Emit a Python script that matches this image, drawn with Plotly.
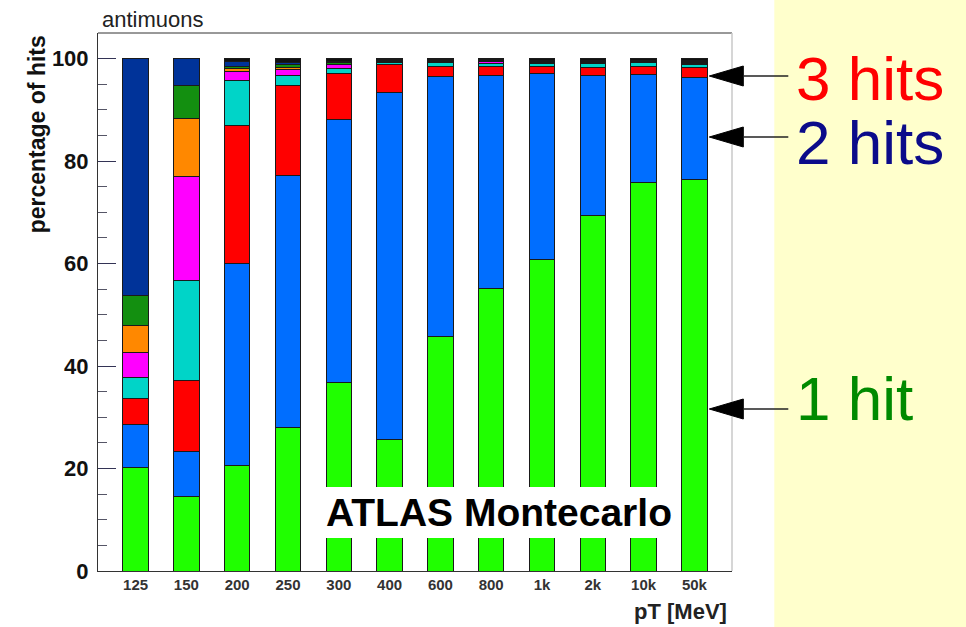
import plotly.graph_objects as go

# ---------------- data ----------------
categories = ["125", "150", "200", "250", "300", "400", "600", "800", "1k", "2k", "10k", "50k"]
hits1 = [20.2, 14.6, 20.5, 28.1, 36.7, 25.6, 45.7, 55.1, 60.7, 69.3, 75.8, 76.4]
hits2 = [8.4, 8.8, 39.5, 49.0, 51.4, 67.7, 50.8, 41.6, 36.3, 27.4, 21.1, 20.0]
hits3 = [5.0, 13.7, 27.0, 17.6, 8.9, 5.5, 2.0, 1.7, 1.5, 1.6, 1.6, 1.8]
hits4 = [4.2, 19.5, 8.8, 2.1, 1.0, 0.4, 0.7, 0.7, 0.5, 0.8, 0.7, 0.7]
hits5 = [4.9, 20.3, 1.7, 1.0, 0.8, 0.1, 0.1, 0.3, 0.1, 0.1, 0.1, 0.2]
hits6 = [5.2, 11.4, 0.6, 0.4, 0.1, 0.05, 0.05, 0.05, 0.05, 0.05, 0.05, 0.05]
hits7 = [5.9, 6.5, 0.4, 0.6, 0.3, 0.2, 0.25, 0.2, 0.35, 0.2, 0.15, 0.2]
hits8 = [46.2, 5.2, 1.0, 0.5, 0.3, 0.2, 0.2, 0.2, 0.2, 0.2, 0.2, 0.3]
hits9 = [0.0, 0.0, 0.5, 0.7, 0.5, 0.25, 0.2, 0.15, 0.3, 0.35, 0.3, 0.35]

series_names = ["1 hit", "2 hits", "3 hits", "4 hits", "5 hits", "6 hits", "7 hits", "8 hits", "9+ hits"]
series_values = [hits1, hits2, hits3, hits4, hits5, hits6, hits7, hits8, hits9]
series_colors = ["#20ff00", "#006eff", "#ff0000", "#00d4c8", "#ff00ff",
                 "#ff8800", "#138f10", "#003399", "#111111"]

title_text = "antimuons"
y_title = "percentage of hits"
x_title = "pT [MeV]"
label_texts = ["3 hits", "2 hits", "1 hit"]
label_colors = ["#ff0000", "#0b0b8a", "#008a00"]

# ---------------- layout geometry (pixels) ----------------
W, H = 966, 627
L, R, T, B = 97.7, 731.7, 33, 571


def px(x):
    return (x - L) / (R - L)


def py(y):
    return (B - y) / (B - T)


FONT = "Liberation Sans, Arial, Helvetica, sans-serif"

fig = go.Figure()
for name, vals, color in zip(series_names, series_values, series_colors):
    fig.add_trace(go.Bar(
        x=categories, y=vals, name=name,
        marker=dict(color=color, line=dict(color="#1a1a1a", width=1)),
    ))

shapes = []
annotations = []

# yellow side panel
shapes.append(dict(type="rect", xref="paper", yref="paper", layer="below",
                   x0=px(774), x1=px(970), y0=py(630), y1=py(-3),
                   fillcolor="#ffffcc", line=dict(width=0)))
# frame top and right
shapes.append(dict(type="line", xref="paper", yref="paper",
                   x0=px(L), x1=px(R), y0=py(T), y1=py(T),
                   line=dict(color="#333333", width=1)))
shapes.append(dict(type="line", xref="paper", yref="paper",
                   x0=px(R), x1=px(R), y0=py(T), y1=py(B),
                   line=dict(color="#c8c8c8", width=1.5)))

# ATLAS label box
shapes.append(dict(type="rect", xref="paper", yref="paper", layer="above",
                   x0=px(318), x1=px(680), y0=py(538), y1=py(487),
                   fillcolor="white", line=dict(width=0)))
annotations.append(dict(text="<b>ATLAS Montecarlo</b>", xref="paper", yref="paper",
                        x=px(499), y=py(512), xanchor="center", yanchor="middle",
                        showarrow=False, font=dict(family=FONT, size=39, color="black")))

# arrows and labels
arrow_y = [76, 137, 409]
text_y = [78, 142, 398]
for lbl, col, ay, ty in zip(label_texts, label_colors, arrow_y, text_y):
    tip, base, tail = 709, 743, 788
    shapes.append(dict(type="path", xref="paper", yref="paper",
                       path=f"M {px(tip)},{py(ay)} L {px(base)},{py(ay - 10)} L {px(base)},{py(ay + 10)} Z",
                       fillcolor="black", line=dict(color="black", width=1)))
    shapes.append(dict(type="line", xref="paper", yref="paper",
                       x0=px(base), x1=px(tail), y0=py(ay), y1=py(ay),
                       line=dict(color="#222222", width=1.5)))
    annotations.append(dict(text=lbl, xref="paper", yref="paper",
                            x=px(794), y=py(ty), xanchor="left", yanchor="middle",
                            showarrow=False, font=dict(family=FONT, size=62, color=col)))

# titles
annotations.append(dict(text=title_text, xref="paper", yref="paper",
                        x=px(100), y=py(19), xanchor="left", yanchor="middle",
                        showarrow=False, font=dict(family=FONT, size=22, color="#222222")))
annotations.append(dict(text=f"<b>{y_title}</b>", xref="paper", yref="paper",
                        x=px(37), y=py(134), xanchor="center", yanchor="middle",
                        textangle=-90, showarrow=False,
                        font=dict(family=FONT, size=23, color="#111111")))
annotations.append(dict(text=f"<b>{x_title}</b>", xref="paper", yref="paper",
                        x=px(729), y=py(611), xanchor="right", yanchor="middle",
                        showarrow=False, font=dict(family=FONT, size=22, color="#222222")))

fig.update_layout(
    barmode="stack", bargap=0.5,
    width=W, height=H,
    margin=dict(l=L, r=W - R, t=T, b=H - B, pad=0),
    showlegend=False,
    plot_bgcolor="white", paper_bgcolor="white",
    font=dict(family=FONT),
    shapes=shapes, annotations=annotations,
    xaxis=dict(type="category", range=[-0.74, 11.74], showline=True, linecolor="#333333",
               linewidth=1, ticks="", showgrid=False, zeroline=False, fixedrange=True,
               tickfont=dict(family=FONT, size=15, color="#333333", weight="bold")),
    yaxis=dict(range=[0, 105], dtick=20, tick0=0, ticks="inside", ticklen=18, tickwidth=1,
               tickcolor="#333355", showline=True, linecolor="#333333", linewidth=1,
               showgrid=False, zeroline=False, ticklabelstandoff=4,
               tickfont=dict(family=FONT, size=22, color="#111111", weight="bold"),
               minor=dict(dtick=5, ticks="inside", ticklen=9, tickcolor="#555566", showgrid=False)),
)

fig.write_html("out.html")
